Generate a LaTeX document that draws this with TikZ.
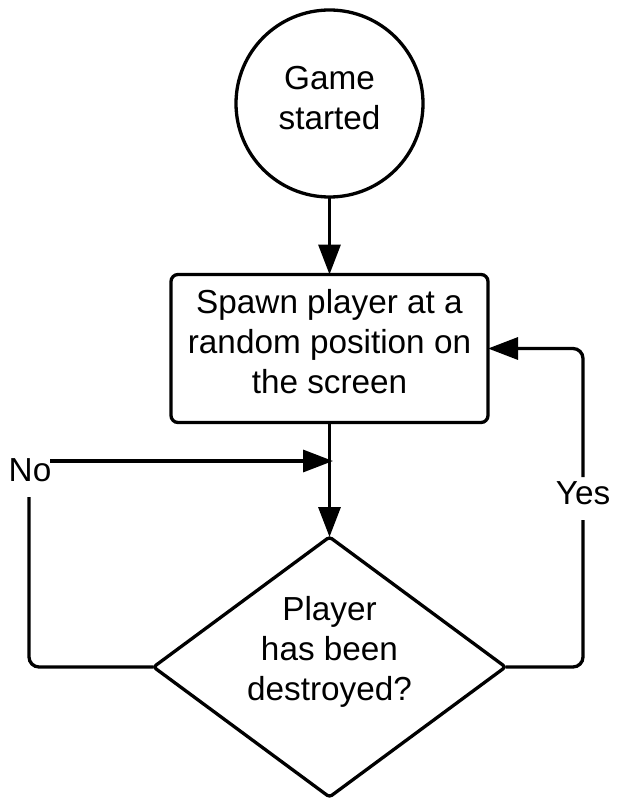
\documentclass[tikz,border=0pt]{standalone}
\usepackage{fontspec}
\setmainfont{Liberation Sans}
\usetikzlibrary{arrows.meta,shapes.geometric}
\begin{document}
\begin{tikzpicture}[x=1pt,y=-1pt,
  ln/.style={line width=3.3pt},
  arr/.style={ln,-{Triangle[length=30pt,width=22pt]}},
  shapebox/.style={draw,ln,inner sep=0pt,outer sep=0pt},
  txt/.style={inner sep=0pt,align=center,font=\fontsize{33.3}{40}\selectfont},
  loop/.style={ln,rounded corners=10pt}]
\useasboundingbox (0,0) rectangle (620,805);
% shapes
\node[shapebox,circle,minimum size=187pt] (start) at (329.5,103.5) {};
\node[shapebox,rectangle,rounded corners=7pt,minimum width=317pt,minimum height=148pt] (spawn) at (329.5,348.5) {};
\node[shapebox,diamond,rounded corners=3pt,minimum width=352pt,minimum height=260pt] (dec) at (329.5,667) {};
% texts
\node[txt] (tstart) at (329.5,98) {Game\\started};
\node[txt] (tspawn) at (329.5,341.3) {Spawn player at a\\random position on\\the screen};
\node[txt] (tdec) at (329.5,651.5) {Player\\has been\\destroyed?};
\node[txt] (tno) at (30,470.4) {No};
\node[txt] (tyes) at (583,493.5) {Yes};
% helper coordinates
\coordinate (nobot) at (29,497);
\coordinate (notop) at (50,461);
\coordinate (nojoin) at (333,461);
\coordinate (yesbot) at (583,520);
\coordinate (yestop) at (583,477);
% connectors
\draw[arr] (start.south) -- (spawn.north);
\draw[arr] (spawn.south) -- (dec.north);
\draw[loop] (dec.west) -| (nobot);
\draw[arr] (notop) -- (nojoin);
\draw[loop] (dec.east) -| (yesbot);
\draw[arr,rounded corners=10pt] (yestop) |- (spawn.east);
\end{tikzpicture}
\end{document}
